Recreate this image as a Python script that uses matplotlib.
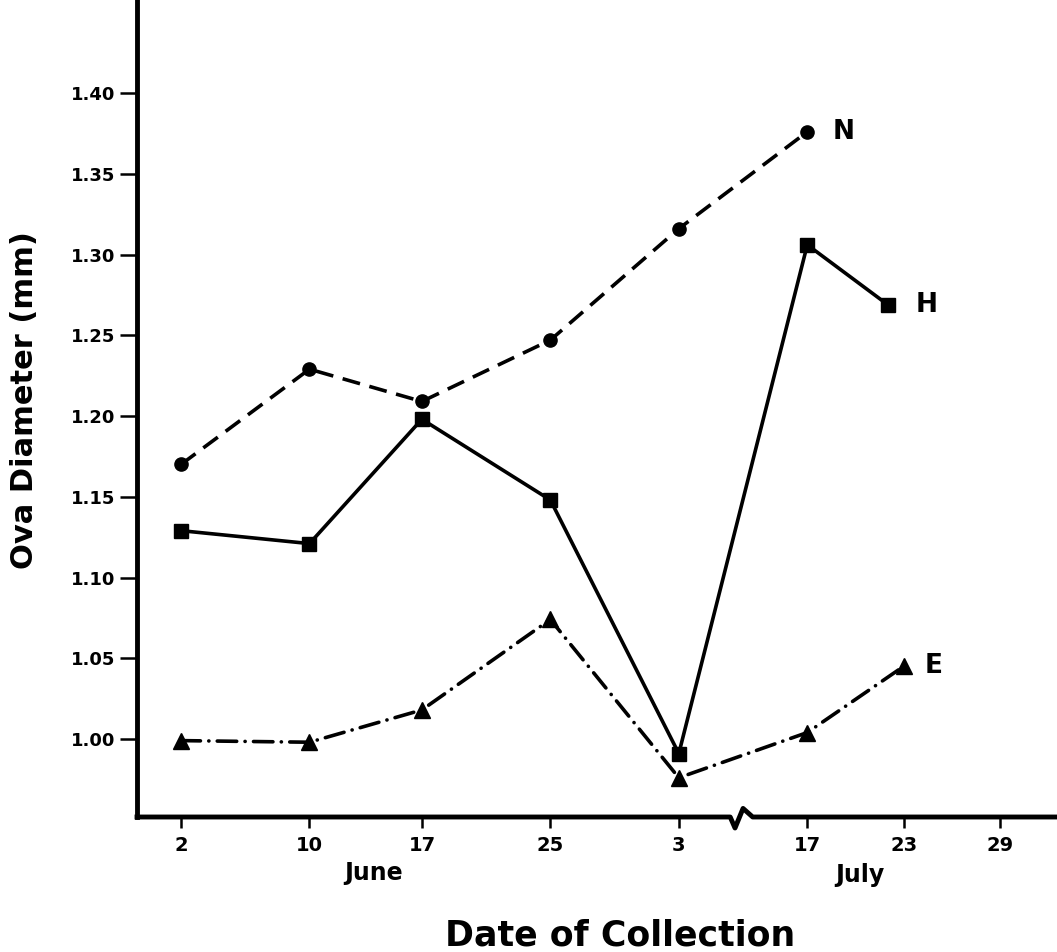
import matplotlib
matplotlib.use("Agg")
import matplotlib.pyplot as plt
from matplotlib.transforms import blended_transform_factory

# -------- data --------
# collection days counted from 1 June (July d -> 30 + d)
days_n = [2, 10, 17, 25, 33, 47]
ova_n  = [1.170, 1.229, 1.209, 1.247, 1.316, 1.376]

days_h = [2, 10, 17, 25, 33, 47, 52]
ova_h  = [1.129, 1.121, 1.198, 1.148, 0.991, 1.306, 1.269]

days_e = [2, 10, 17, 25, 33, 47, 53]
ova_e  = [0.999, 0.998, 1.018, 1.074, 0.976, 1.004, 1.045]

tick_days   = [2, 10, 17, 25, 33, 47, 53, 59]
tick_labels = ['2', '10', '17', '25', '3', '17', '23', '29']
y_ticks     = [1.00, 1.05, 1.10, 1.15, 1.20, 1.25, 1.30, 1.35, 1.40]

# axis is broken between 3 and 17 July
GAP = 6
BREAK_AT = 36


def squeeze(days):
    return [d - GAP if d > BREAK_AT else d for d in days]


plt.rcParams['font.family'] = 'DejaVu Sans'
plt.rcParams['font.weight'] = 'bold'
plt.rcParams['lines.scale_dashes'] = False

fig = plt.figure(figsize=(10.57, 9.52), dpi=100)
ax = fig.add_axes([137/1057, 135/952, 1 - 137/1057, 817/952])

LW = 2.6
ax.plot(squeeze(days_n), ova_n, color='black', lw=LW, marker='o', ms=9.5,
        dashes=(13, 7), dash_capstyle='butt')
ax.plot(squeeze(days_h), ova_h, color='black', lw=LW, marker='s', ms=10,
        linestyle='-')
ax.plot(squeeze(days_e), ova_e, color='black', lw=LW, marker='^', ms=12,
        dashes=(14, 6, 0.1, 6), dash_capstyle='round')

# series letters next to the last point
for days, vals, name, dx in [(days_n, ova_n, 'N', 18),
                             (days_h, ova_h, 'H', 20),
                             (days_e, ova_e, 'E', 15)]:
    ax.annotate(name, (squeeze(days)[-1], vals[-1]), xytext=(dx, 0),
                textcoords='offset points', ha='left', va='center',
                fontsize=19, fontweight='bold')

ax.set_xlim(-0.74, 56.55)
ax.set_ylim(0.9517, 1.4576)

ax.set_yticks(y_ticks)
ax.set_yticklabels([f"{v:.2f}" for v in y_ticks])
ax.set_xticks(squeeze(tick_days))
ax.set_xticklabels(tick_labels)

ax.tick_params(axis='y', direction='out', length=12, width=1.8, pad=3.5,
               labelsize=13)
ax.tick_params(axis='x', direction='out', length=8, width=1.8, pad=6,
               labelsize=14)

for s in ['top', 'right', 'bottom']:
    ax.spines[s].set_visible(False)
ax.spines['left'].set_linewidth(3.5)

# bottom axis drawn by hand so the break mark sits in it
tr = blended_transform_factory(ax.transData, ax.transAxes)
bx = BREAK_AT + 0.8
ax.plot([-0.74, bx - 0.6, bx - 0.3, bx + 0.2, bx + 0.8, 56.55],
        [0, 0, -0.0135, 0.0105, 0, 0],
        color='black', lw=3.5, transform=tr, clip_on=False,
        solid_joinstyle='round')

ax.text(14, -0.068, 'June', transform=tr, ha='center', va='center',
        fontsize=17, fontweight='bold')
ax.text(44.3, -0.071, 'July', transform=tr, ha='center', va='center',
        fontsize=17, fontweight='bold')

fig.text(620/1057, 1 - 935/952, 'Date of Collection', ha='center',
         va='center', fontsize=25, fontweight='bold')
fig.text(25/1057, 1 - 400/952, 'Ova Diameter (mm)', rotation=90,
         ha='center', va='center', fontsize=22, fontweight='bold')

fig.savefig('out.png', dpi=100)
